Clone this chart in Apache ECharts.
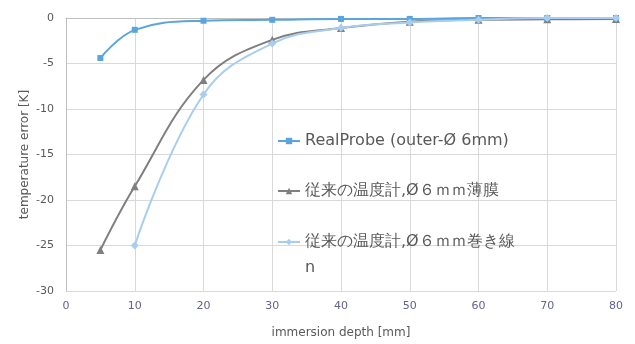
<!DOCTYPE html>
<html><head><meta charset="utf-8">
<script src="https://cdn.jsdelivr.net/npm/echarts@6/dist/echarts.min.js"></script>
<style>html,body{margin:0;padding:0;background:#fff}#c{width:635px;height:344px}</style>
</head><body><div id="c"></div>
<script>
var depths = [5, 10, 20, 30, 40, 50, 60, 70, 80];
var realProbe = [-4.4, -1.3, -0.3, -0.2, -0.1, -0.1, 0, 0, 0];
var filmSensor = [-25.5, -18.5, -6.8, -2.4, -1.1, -0.4, -0.2, -0.15, -0.1];
var wireDepths = [10, 20, 30, 40, 50, 60, 70, 80];
var wireSensor = [-25.0, -8.4, -2.8, -1.1, -0.5, -0.2, 0, 0];
var seriesNames = ['RealProbe (outer-Ø 6mm)', '従来の温度計,Ø６ｍｍ薄膜', '従来の温度計,Ø６ｍｍ巻き線\nn'];
var xTitle = 'immersion depth [mm]';
var yTitle = 'temperature error [K]';

function pairs(xs, ys){ return xs.map(function(x,i){return [x, ys[i]];}); }
var font = 'DejaVu Sans, sans-serif';
var legendText = {fontFamily:font, fontSize:16, color:'#595959', lineHeight:26};
function legendFor(i, top, fmt){
  var l = {orient:'vertical', left:272, top:top, itemWidth:22, itemHeight:8, itemGap:0,
          textStyle:legendText, data:[seriesNames[i]]};
  if (fmt) l.formatter = fmt;
  return l;
}
var chart = echarts.init(document.getElementById('c'), null, {renderer:'canvas'});
chart.setOption({
  animation:false,
  grid:{left:66, right:19, top:18, bottom:53},
  legend:[
    legendFor(0, 123),
    legendFor(1, 173),
    legendFor(2, 198, function(name){ return ' \n' + name; })
  ],
  xAxis:{
    type:'value', min:0, max:80, interval:10,
    name:xTitle, nameLocation:'middle', nameGap:36, nameMoveOverlap:false,
    nameTextStyle:{fontFamily:font, fontSize:12, color:'#595959'},
    axisLine:{show:true, lineStyle:{color:'#bfbfbf'}},
    axisTick:{show:false},
    axisLabel:{fontFamily:font, fontSize:11, color:'#62628f', margin:10},
    splitLine:{show:true, lineStyle:{color:'#d9d9d9'}}
  },
  yAxis:{
    type:'value', min:-30, max:0, interval:5,
    name:yTitle, nameLocation:'middle', nameGap:35, nameRotate:90, nameMoveOverlap:false,
    nameTextStyle:{fontFamily:font, fontSize:12, color:'#595959'},
    axisLine:{show:true, onZero:false, lineStyle:{color:'#bfbfbf'}},
    axisTick:{show:false},
    axisLabel:{fontFamily:font, fontSize:11, color:'#595959', margin:12},
    splitLine:{show:true, lineStyle:{color:'#d9d9d9'}}
  },
  series:[
    {name:seriesNames[0], type:'line', smooth:0.4, data:pairs(depths, realProbe),
     symbol:'rect', symbolSize:6, itemStyle:{color:'#5aa5dd'}, lineStyle:{width:2, color:'#5aa5dd'}, z:4},
    {name:seriesNames[1], type:'line', smooth:0.4, data:pairs(depths, filmSensor),
     symbol:'triangle', symbolSize:8, itemStyle:{color:'#7f7f7f'}, lineStyle:{width:2, color:'#7f7f7f'}, z:3},
    {name:seriesNames[2], type:'line', smooth:0.4, data:pairs(wireDepths, wireSensor),
     symbol:'diamond', symbolSize:8, itemStyle:{color:'#a9cdee'}, lineStyle:{width:2, color:'#a9cdee'}, z:5}
  ]
});
</script></body></html>
